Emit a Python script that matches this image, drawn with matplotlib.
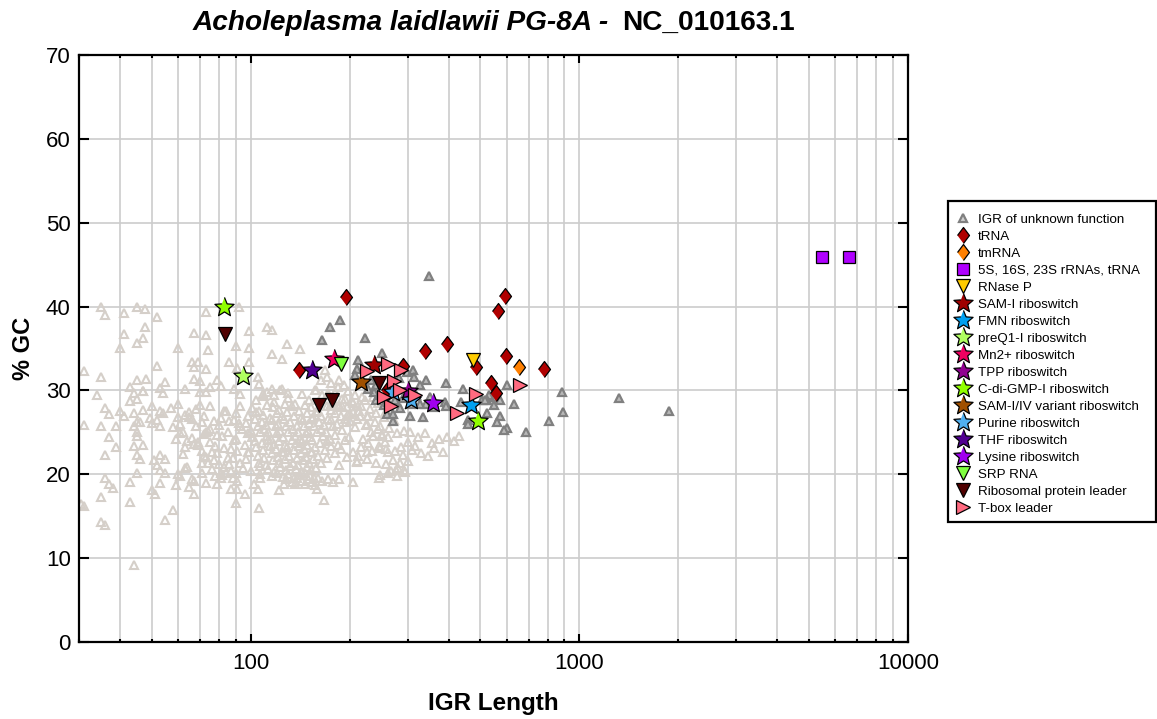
import matplotlib
matplotlib.use('Agg')
import matplotlib.pyplot as plt
from matplotlib.lines import Line2D
from matplotlib.patches import Rectangle

plt.rcParams['font.family'] = ['Liberation Sans', 'DejaVu Sans']

# intergenic regions without a known function, far left cloud
light_x = [31,35,36,35,34,40,41,41,45,47.7,52,47.7,47,45,45,48,52,55,43,47,60,67,73,73,74,66,69,67,73,67,70,63,
           92,99,90,99,86,99,91,79,105,106,112,116,129,141,116,124,116,123,130,157,75,81,89,53,70,73,44,47,54,93,109,118,163,170,175,185,192,168,
           36,37,40,43,44,45,41,45,47,50,46,49.3,50,39,35,31,44,45,45,37,39,44,47,36,45,46,50.7,53,55,52,53,55,45,
           36,37,38,43,53,50,51,35,43,30.5,31,58,55,35,36,44,
           59,61,63,65,67,67,73,79,81,87,91,91,96,90,106,102,105,107,122,159,167,186,205,246,276,
           # dense band, read row by row
           104,110,118,130,136,150,165,178,190,205,218,112,124,143,158,172,184,198,212,
           53,60,68,75,83,93,101,106,112,117,122,127,133,140,146,152,160,170,176,186,196,212,226,
           54,60,65,72,81,90,98,104,109,114,120,124,129,135,142,148,155,158,163,172,180,188,197,205,215,238,
           52,61,66,71,80,89,97,103,108,111,116,121,126,132,138,144,150,153,161,167,175,183,193,201,224,243,
           53,62,68,75,85,93,100,105,110,113,119,123,128,134,139,145,149,156,164,169,178,190,208,232,250,
           61,66,73,82,90,98,101,107,112,115,120,125,130,136,141,147,151,159,166,174,181,199,220,236,256,
           64,69,75,89,96,103,108,113,118,122,127,133,137,143,148,154,162,171,184,194,228,246,258,
           63,71,78,87,99,104,109,114,119,124,129,135,140,145,152,157,168,176,188,205,216,234,248,
           72,79,88,98,105,110,116,121,126,131,138,142,147,153,160,170,181,196,212,225,
           71,77,86,97,106,111,117,122,127,134,139,144,150,155,163,186,210,
           76,83,100,107,113,118,123,128,132,137,143,148,152,158,
           81,84,107,116,120,125,130,135,141,146,151,156,
           128,133,138,143,149,154,160,165,172,178,126,136,146,157,
           # left part and upper right of the band
           57,63,70,77,84,92,58,65,74,79,86,94,59,67,72,83,91,62,69,76,85,93,64,73,80,87,95,60,71,78,88,66,74,82,90,
           172,181,194,208,222,236,250,266,176,190,203,216,230,244,258,186,200,214,228,240,254,272,195,210,226,248,264,
           # around the lower right edge of the cloud
           236,250,262,278,292,305,322,340,286,300,316,355,375,395,415,430,262,275,290,310,330,360,345,384,
           210,225,240,258,270,284,300,268,280,295,248,262,278,292]
light_y = [32.3,40,39,31.6,29.5,35.1,39.2,36.7,40,39.7,38.7,37.6,36.3,35.7,31.2,31.4,32.9,31,30.4,29.9,35.1,36.9,39.3,36.6,34.8,33.4,33.4,32.8,32.5,31.4,31.1,30.2,
           40,37.1,35.3,35.1,33.4,33.4,32.7,31.2,31.6,30.8,37.6,37.2,35.5,34.9,34.3,33.7,30.2,30,29.7,30,30.4,30.5,30.2,30.3,29.8,29.8,29.7,29.9,29.7,29.6,29.6,29.5,31.2,31.6,30.9,31.3,30.6,32.4,
           27.9,27.2,27.5,28.7,27.3,29,27,26.2,27.7,28.1,26.2,26.7,26.1,25.8,25.8,25.9,25.7,25.1,24.6,24.4,23.2,23.4,23.5,22.3,22.3,21.8,21.7,22.3,21.8,21.1,20.5,20.1,20.1,
           19.5,18.9,18.4,19.1,19,18.1,17.7,17.3,16.7,16.5,16.2,15.7,14.6,14.3,13.9,9.2,
           18.7,19.8,20.7,18.5,19.2,17.7,19,18.8,19.5,18.2,19.2,18.2,17.6,16.6,16,18.9,18.3,19.6,18.1,18.3,16.9,19.4,19.1,19.5,20.5,
           28.9,29.3,28.6,29.1,28.4,28.9,29.4,28.7,29,28.5,29.2,29.8,30.2,29.6,30.1,29.7,30.4,29.9,
           28.1,27.6,28.4,27.8,28.1,27.5,28.2,27.9,27.6,28.3,28,27.7,28.4,28.1,27.5,28.3,28,27.6,28.2,27.7,28.3,28,27.6,
           27,27.3,26.8,27.4,27,26.7,27.3,26.9,27.4,27.1,26.7,27.3,26.9,27.4,27,26.7,27.3,26.8,27.4,27,26.6,27.3,26.9,27.2,27.4,26.9,
           26.2,26.5,26,26.6,26.2,25.9,26.5,26.1,26.6,26.2,25.9,26.5,26,26.6,26.2,25.8,26.5,26.1,26.6,26.2,25.9,26.5,26,26.6,26.3,25.9,
           25.4,25.7,25.1,25.8,25.4,25,25.7,25.2,25.8,25.4,25,25.7,25.2,25.8,25.4,25,25.7,25.2,25.8,25.4,25,25.7,25.3,25.6,25,
           24.6,24.9,24.3,25,24.6,24.2,24.9,24.4,25,24.6,24.2,24.9,24.4,25,24.6,24.2,24.9,24.4,25,24.6,24.2,24.7,24.4,24.2,24.6,
           23.8,24,23.5,23.9,24.1,23.5,24,23.7,24.1,23.6,24,23.5,24.1,23.7,24,23.5,24.1,23.7,24,23.5,24.1,23.7,23.4,
           23,23.3,22.8,23.4,23,22.7,23.3,22.9,23.4,23,22.7,23.3,22.9,23.4,23,22.7,23.3,22.9,23.4,23,22.7,23.2,22.8,23.1,
           22.2,22.5,22,22.6,22.2,21.9,22.5,22.1,22.6,22.2,21.9,22.5,22.1,22.6,22.2,21.9,22.5,22.1,22.2,22.6,
           21.4,21.7,21.2,21.8,21.4,21.1,21.7,21.3,21.8,21.4,21.1,21.7,21.3,21.8,21.4,21.1,21.6,
           20.6,20.9,20.4,21,20.6,20.3,20.9,20.5,21,20.6,20.3,20.9,20.5,20.7,
           20.1,20.2,20,19.8,20.1,19.7,20,19.6,19.9,20.1,19.8,19.5,
           19.4,19.1,19.5,19.2,19.4,19.1,19.5,19.2,19.4,19.1,18.9,18.8,18.9,18.7,
           27.9,27.1,28.3,26.4,27.6,26.1,25.6,26.8,25.2,24.7,26.3,25.4,24.2,23.6,24.8,23.1,22.8,22.4,23.9,22.6,21.9,21.4,20.9,22.1,21.2,20.4,20.7,20,20.2,19.8,19.6,19.4,21.3,19.9,20.1,
           29.4,29.8,29,29.5,28.8,29.2,28.6,29.1,28.4,28.1,28.7,28.2,27.8,28.5,27.6,28,27.2,27.5,27,27.3,26.8,26.5,26.2,26.6,26,25.8,25.5,
           24.6,24.8,24.5,24.9,25.2,25.1,24.4,24.9,23.3,23.8,23.4,23.7,24.2,24.4,24,24.6,22.6,22.8,22.3,22.9,22.5,23.1,22.2,22.7,
           21.5,21.8,21.4,21.2,21.7,21.3,21.6,20.4,20.7,20.3,19.9,20.2,19.8,20.5]

# the same, the part that stays dark in the picture
unk_x = [349,187,174,165,222,250,212,210,208,240,237,240,298,312,314,342,327,393,442,544,532,525,550,525,575,600,632,575,600,590,686,808,887,890,
         457,457,437,390,393,335,305,270,260,270,284,342,358,327,1320,1880,245,255,232,228,262,275,290,305,318,283,350,470,505,560,515]
unk_y = [43.7,38.4,37.6,36,36.3,34.5,33.6,32.6,31.8,30.6,29.8,28.8,32.2,32.4,31.6,31.3,30.6,30.9,30.2,29.2,29.4,28.9,28.3,27.3,28.9,30.7,28.4,26.9,25.5,25.3,25,26.3,29.8,27.4,
         26.5,26,28.6,28.6,28.2,26.8,27,26.3,27.2,27.2,27.9,28.4,28,28.4,29.1,27.6,29.4,28.3,31.2,30.2,28.6,28.8,29.1,28.4,29.5,31.5,29.2,28.2,28.8,26.2,28.9]

trna_x = [195,593,565,340,395,485,599,779,537,556,140,291,260]
trna_y = [41.1,41.3,39.5,34.65,35.5,32.75,34.1,32.55,30.85,29.65,32.4,32.9,30]
tmrna_x = [655]
tmrna_y = [32.8]
rrna_x = [5480,6620]
rrna_y = [45.9,45.9]
rnasep_x = [474]
rnasep_y = [33.6]
sam1_x = [237]
sam1_y = [33.0]
fmn_x = [469]
fmn_y = [28.3]
preq1_x = [95]
preq1_y = [31.7]
mn2_x = [179]
mn2_y = [33.8]
tpp_x = [301]
tpp_y = [29.97]
cdig_x = [491,82.6]
cdig_y = [26.3,39.9]
samvar_x = [216]
samvar_y = [31]
purine_x = [307,270]
purine_y = [28.85,29.8]
thf_x = [154]
thf_y = [32.4]
lysine_x = [358]
lysine_y = [28.5]
srp_x = [188]
srp_y = [33.2]
ribo_x = [83.6,161,177,246]
ribo_y = [36.7,28.26,28.9,30.85]
tbox_x = [660,486,424,317,267,254,272,284,286,262,226]
tbox_y = [30.65,29.6,27.35,29.4,28.2,29.2,31.15,30.05,32.4,33.15,32.35]

# wider diamond and fatter star than the built in ones
dia = [(-0.75,0),(0,1),(0.75,0),(0,-1)]
star = [(0,1),(0.26,0.36),(0.95,0.31),(0.42,-0.14),(0.59,-0.81),(0,-0.44),(-0.59,-0.81),(-0.42,-0.14),(-0.95,0.31),(-0.26,0.36)]

fig = plt.figure(figsize=(11.57,7.19),dpi=100)
ax = fig.add_axes([79/1157,1-642/719,829/1157,587/719])
ax.set_xscale('log')
ax.set_xlim(30,10000)
ax.set_ylim(0,70)

ax.grid(True,which='both',axis='x',color='#cccccc',lw=1.2)
ax.grid(True,which='major',axis='y',color='#cccccc',lw=1.2)
ax.set_axisbelow(True)

ax.plot(light_x,light_y,ls='none',marker='^',ms=6.2,mfc='none',mec='#d5cfc9',mew=1.5)
ax.plot(unk_x,unk_y,ls='none',marker='^',ms=6,mfc='#b8b8b8',mec='#808080',mew=1.6)

# marker, size, fill, data, label in legend order
series = [(dia,11.5,'#b00000',trna_x,trna_y,'tRNA'),
          (dia,11.5,'#ff8000',tmrna_x,tmrna_y,'tmRNA'),
          ('s',8.5,'#b000ff',rrna_x,rrna_y,'5S, 16S, 23S rRNAs, tRNA'),
          ('v',9.5,'#ffcc00',rnasep_x,rnasep_y,'RNase P'),
          (star,14.5,'#a00000',sam1_x,sam1_y,'SAM-I riboswitch'),
          (star,14.5,'#00a0f0',fmn_x,fmn_y,'FMN riboswitch'),
          (star,14.5,'#b0ff60',preq1_x,preq1_y,'preQ1-I riboswitch'),
          (star,14.5,'#f00060',mn2_x,mn2_y,'Mn2+ riboswitch'),
          (star,14.5,'#900090',tpp_x,tpp_y,'TPP riboswitch'),
          (star,14.5,'#90ff00',cdig_x,cdig_y,'C-di-GMP-I riboswitch'),
          (star,14.5,'#a05000',samvar_x,samvar_y,'SAM-I/IV variant riboswitch'),
          (star,14.5,'#50b0f0',purine_x,purine_y,'Purine riboswitch'),
          (star,14.5,'#500090',thf_x,thf_y,'THF riboswitch'),
          (star,14.5,'#a000f0',lysine_x,lysine_y,'Lysine riboswitch'),
          ('v',9.5,'#80ff40',srp_x,srp_y,'SRP RNA'),
          ('v',9.5,'#500000',ribo_x,ribo_y,'Ribosomal protein leader'),
          ('>',9.5,'#ff6a80',tbox_x,tbox_y,'T-box leader')]

handles = [Line2D([],[],ls='none',marker='^',ms=6,mfc='#d0d0d0',mec='#808080',mew=1.6,label='IGR of unknown function')]
for m,s,c,xs,ys,lab in series:
    ax.plot(xs,ys,ls='none',marker=m,ms=s,mfc=c,mec='black',mew=0.9,zorder=4)
    handles.append(Line2D([],[],ls='none',marker=m,ms=s,mfc=c,mec='black',mew=0.9,label=lab))

ax.set_yticks(range(0,71,10))
ax.set_xticks([100,1000,10000])
ax.set_xticklabels(['100','1000','10000'])
ax.tick_params(axis='y',which='major',direction='in',length=7,width=1.5,labelsize=16,pad=6,right=True)
ax.tick_params(axis='x',which='major',direction='in',length=5.5,width=1.5,labelsize=16,pad=8,top=True)
ax.tick_params(axis='x',which='minor',direction='in',length=2.5,width=1.5,labelbottom=False,top=True)
for sp in ax.spines.values():
    sp.set_linewidth(1.6)

ax.set_xlabel('IGR Length',fontsize=17.5,fontweight='bold',labelpad=13)
ax.set_ylabel('% GC',fontsize=17,fontweight='bold',labelpad=8)

fig.text(193/1157,1-23/719,'Acholeplasma laidlawii PG-8A -',fontsize=20.2,fontweight='bold',style='italic',ha='left',va='center')
fig.text(795/1157,1-23/719,'NC_010163.1',fontsize=20.2,fontweight='bold',ha='right',va='center')

# box drawn apart, the text sits lower in it than a legend frame allows
fig.add_artist(Rectangle((947.5/1157,1-522/719),208.5/1157,321/719,transform=fig.transFigure,fc='white',ec='black',lw=1.6))
fig.legend(handles=handles,loc='upper left',bbox_to_anchor=(947.5/1157,1-204/719),borderaxespad=0,
           fontsize=9.66,labelspacing=0.343,handletextpad=0.6,handlelength=0.985,borderpad=0.7,frameon=False)

fig.savefig('out.png',dpi=100)
